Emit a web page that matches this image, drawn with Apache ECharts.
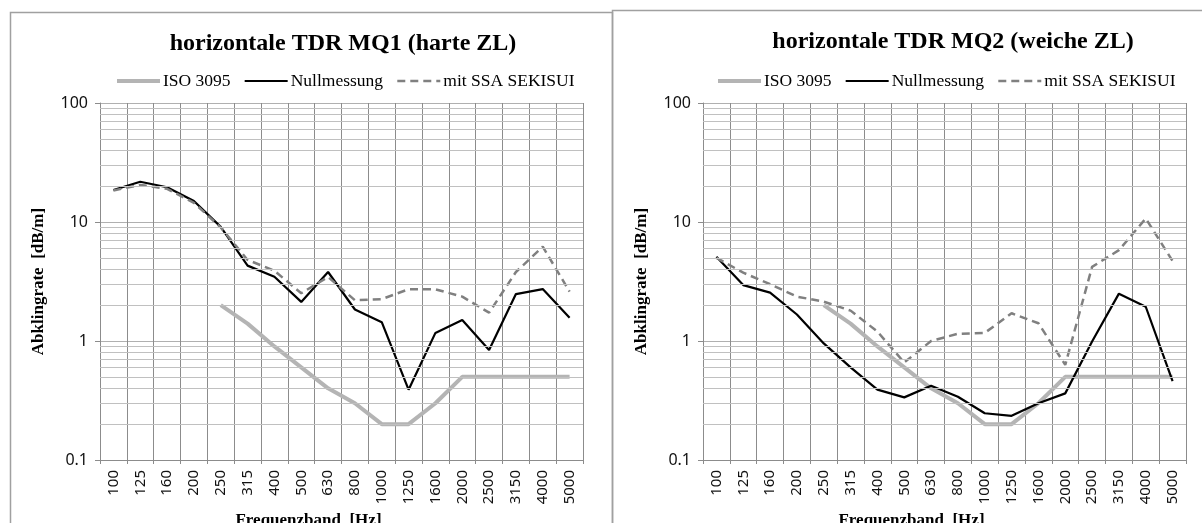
<!DOCTYPE html>
<html>
<head>
<meta charset="utf-8">
<script src="https://cdn.jsdelivr.net/npm/echarts@6/dist/echarts.min.js"></script>
<style>
html,body{margin:0;padding:0;background:#fff;}
#chart{width:1202px;height:523px;}
</style>
</head>
<body>
<div id="chart"></div>
<script>
// ---- data ----
var categories = ['100','125','160','200','250','315','400','500','630','800','1000','1250','1600','2000','2500','3150','4000','5000'];
var seriesNames = ['ISO 3095', 'Nullmessung', 'mit SSA SEKISUI'];
var titles = ['horizontale TDR MQ1 (harte ZL)', 'horizontale TDR MQ2 (weiche ZL)'];
var yAxisTitle = 'Abklingrate  [dB/m]';
var xAxisTitle = 'Frequenzband  [Hz]';
var iso3095 = [null,null,null,null,2.0,1.4,0.9,0.6,0.4,0.3,0.2,0.2,0.3,0.5,0.5,0.5,0.5,0.5];
var mq1Null = [18.6,21.8,19.6,15.0,9.1,4.3,3.47,2.13,3.8,1.84,1.44,0.39,1.17,1.5,0.84,2.48,2.73,1.57];
var mq1Ssa  = [18.4,20.5,19.0,14.5,9.0,4.8,3.9,2.52,3.45,2.2,2.25,2.72,2.72,2.36,1.73,3.8,6.2,2.6];
var mq2Null = [5.1,2.95,2.55,1.67,0.955,0.60,0.39,0.336,0.42,0.34,0.247,0.235,0.30,0.363,0.99,2.5,1.94,0.46];
var mq2Ssa  = [5.0,3.75,3.0,2.36,2.14,1.8,1.2,0.66,1.0,1.15,1.17,1.71,1.41,0.63,4.2,5.8,10.7,4.7];
var yMin = 0.1, yMax = 100;

// ---- minor gridlines (log decades 2..9) ----
var minorLines = [];
for (var d = yMin; d < yMax; d *= 10) {
  for (var k = 2; k <= 9; k++) minorLines.push({ yAxis: +(d * k).toPrecision(3) });
}

var serif = '"Liberation Serif", "Times New Roman", serif';
var sans = '"Noto Sans", "Open Sans", sans-serif';
var vColor = '#8c8c8c';

var styles = [
  { color: '#b4b4b4', width: 4, type: 'solid' },
  { color: '#000000', width: 2.2, type: 'solid' },
  { color: '#808080', width: 2.5, type: [8, 5] }
];

var grids = [
  { left: 100, top: 103, width: 483, height: 357, containLabel: false, outerBoundsMode: 'none' },
  { left: 703, top: 103, width: 483, height: 357, containLabel: false, outerBoundsMode: 'none' }
];

function makeX(i) {
  return {
    type: 'category', gridIndex: i, data: categories, boundaryGap: true,
    axisLine: { show: true, lineStyle: { color: vColor, width: 1 } },
    axisTick: { show: true, alignWithLabel: false, length: 4, lineStyle: { color: vColor } },
    axisLabel: { interval: 0, rotate: 90, margin: 10, fontFamily: sans, fontSize: 15, color: '#111' },
    splitLine: { show: true, interval: 0, lineStyle: { color: vColor, width: 1 } },
    name: xAxisTitle, nameLocation: 'middle', nameGap: 50,
    nameTextStyle: { fontFamily: serif, fontWeight: 'bold', fontSize: 17, color: '#000', padding: [0, 66, 0, 0] }
  };
}
function makeY(i) {
  return {
    type: 'log', logBase: 10, gridIndex: i, min: yMin, max: yMax,
    axisLine: { show: true, lineStyle: { color: vColor, width: 1 } },
    axisTick: { show: true, length: 5, lineStyle: { color: vColor } },
    axisLabel: { fontFamily: sans, fontSize: 16, color: '#111', margin: 12,
      formatter: function (v) { return String(+v.toPrecision(3)); } },
    splitLine: { show: true, lineStyle: { color: '#b0b0b0', width: 1 } },
    name: yAxisTitle, nameLocation: 'middle', nameGap: 53, nameRotate: 90,
    nameTextStyle: { fontFamily: serif, fontWeight: 'bold', fontSize: 17, color: '#000' }
  };
}

function lineSeries(idx, data, i) {
  var st = styles[idx];
  return {
    name: seriesNames[idx], type: 'line', xAxisIndex: i, yAxisIndex: i, data: data,
    symbol: 'none', showSymbol: false, connectNulls: false, z: 3,
    lineStyle: { color: st.color, width: st.width, type: st.type },
    itemStyle: { color: st.color }
  };
}
function minorSeries(i) {
  return {
    name: 'minor' + i, type: 'line', xAxisIndex: i, yAxisIndex: i, data: [],
    silent: true, z: 1,
    markLine: {
      silent: true, symbol: ['none', 'none'], animation: false,
      label: { show: false }, emphasis: { disabled: true },
      lineStyle: { color: '#c0c0c0', width: 1, type: 'solid' },
      data: minorLines
    }
  };
}
function legendData() {
  return seriesNames.map(function (n, k) {
    return { name: n, lineStyle: { color: styles[k].color, width: styles[k].width, type: styles[k].type } };
  });
}
function makeLegend(left) {
  return {
    data: legendData(), left: left, top: 67, itemWidth: 43, itemHeight: 14, itemGap: 13,
    itemStyle: { opacity: 0 },
    textStyle: { fontFamily: serif, fontSize: 17.5, color: '#000', padding: [0, 0, 0, -2] }
  };
}

var option = {
  animation: false,
  backgroundColor: '#ffffff',
  graphic: [
    { type: 'rect', shape: { x: 10.5, y: 12.5, width: 602, height: 530 }, style: { fill: 'none', stroke: '#a0a0a0', lineWidth: 1.5 }, silent: true, z: -1 },
    { type: 'rect', shape: { x: 612.5, y: 10.5, width: 610, height: 530 }, style: { fill: 'none', stroke: '#a0a0a0', lineWidth: 1.5 }, silent: true, z: -1 }
  ],
  title: [
    { text: titles[0], left: 338, top: 27, textAlign: 'center',
      textStyle: { fontFamily: serif, fontWeight: 'bold', fontSize: 24, color: '#000' } },
    { text: titles[1], left: 948, top: 25, textAlign: 'center',
      textStyle: { fontFamily: serif, fontWeight: 'bold', fontSize: 24, color: '#000' } }
  ],
  legend: [makeLegend(110), makeLegend(711)],
  grid: grids,
  xAxis: [makeX(0), makeX(1)],
  yAxis: [makeY(0), makeY(1)],
  series: [
    minorSeries(0), minorSeries(1),
    lineSeries(0, iso3095, 0),
    lineSeries(1, mq1Null, 0),
    lineSeries(2, mq1Ssa, 0),
    lineSeries(0, iso3095, 1),
    lineSeries(1, mq2Null, 1),
    lineSeries(2, mq2Ssa, 1)
  ]
};

var chart = echarts.init(document.getElementById('chart'), null, { renderer: 'canvas' });
chart.setOption(option);
</script>
</body>
</html>
